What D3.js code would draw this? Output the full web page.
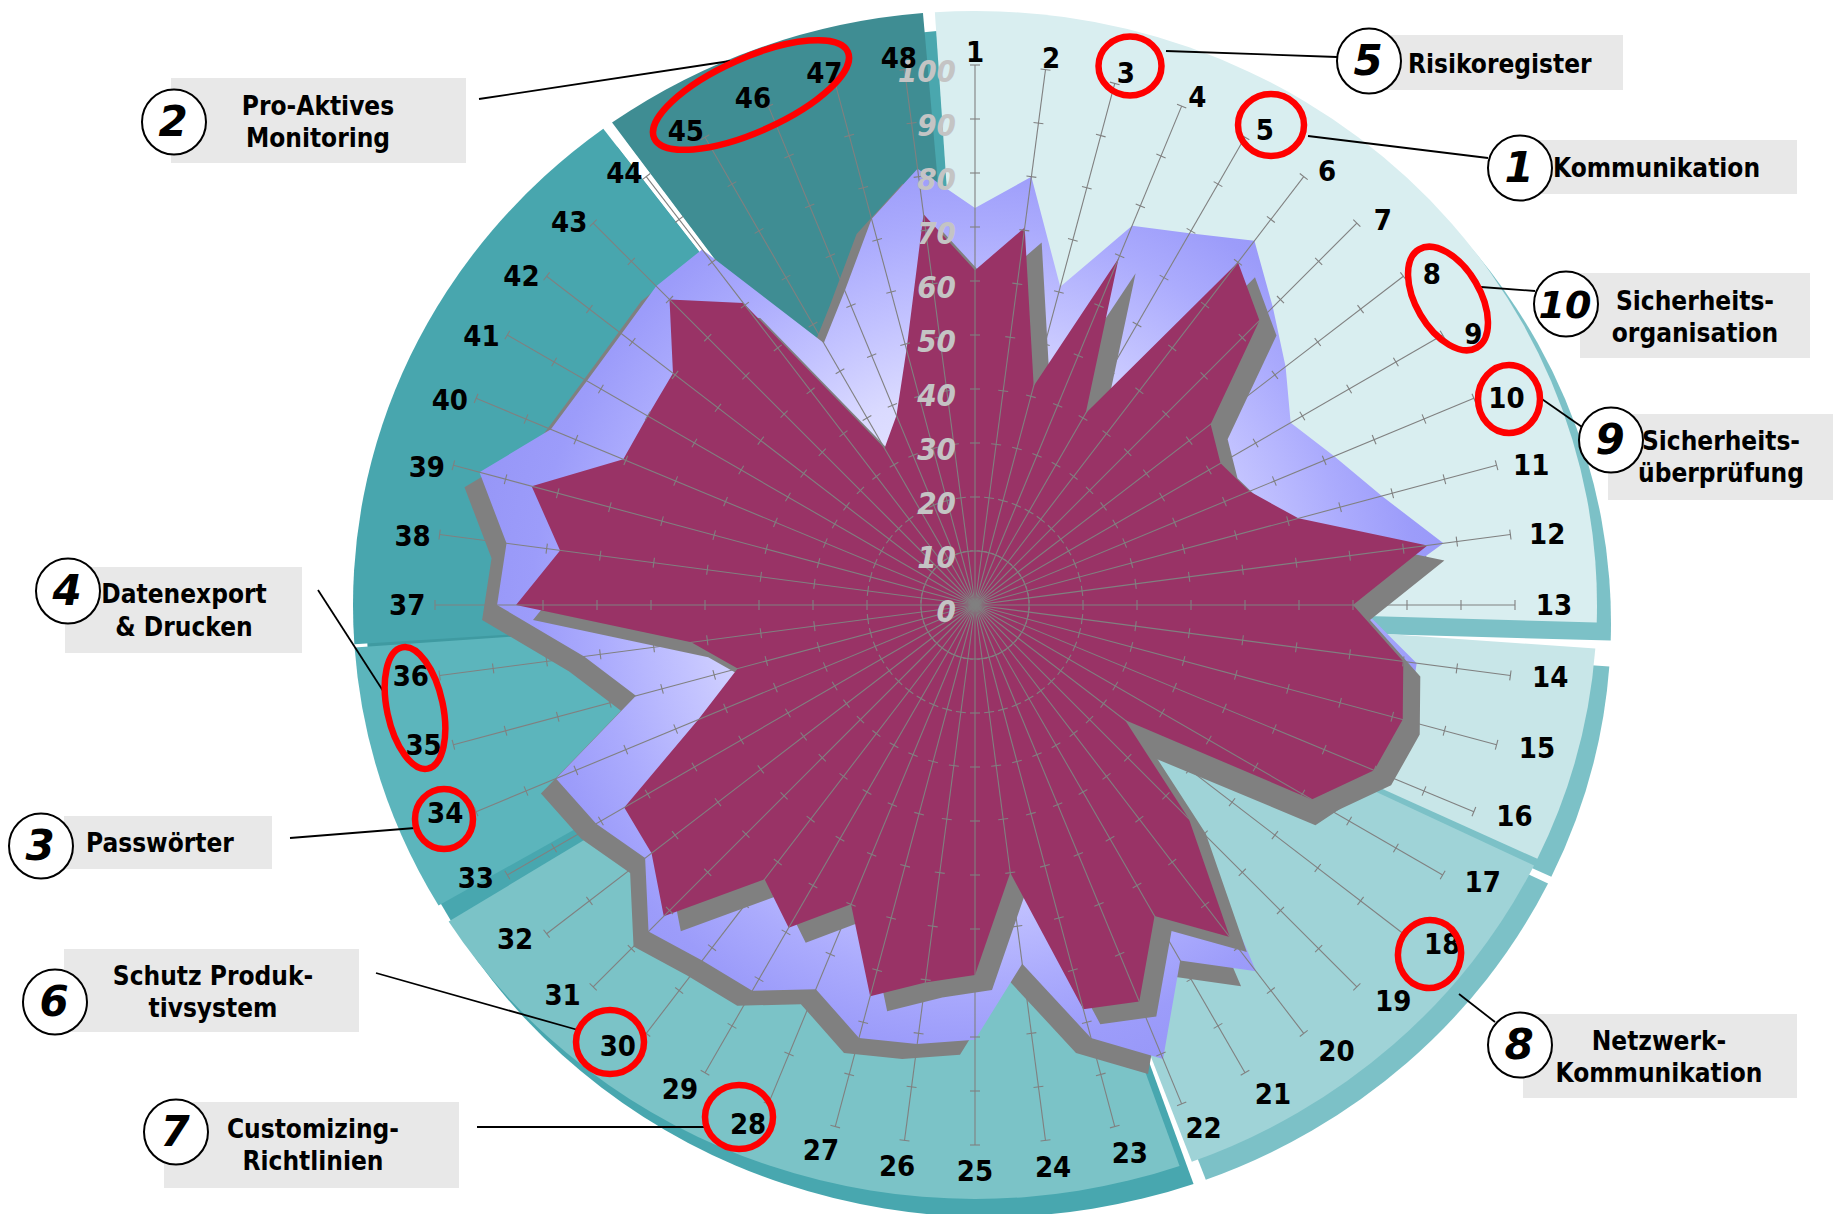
<!DOCTYPE html>
<html><head><meta charset="utf-8">
<script src="https://cdn.jsdelivr.net/npm/d3@7"></script>
<style>body{margin:0;background:#fff;} svg{display:block;}</style>
</head><body>
<svg id="chart" width="1833" height="1214"></svg>
<script>
// ---------------- DATA ----------------
const axisLabels = d3.range(1, 49).map(String);
// light lavender series (target)
const targetValues = [73.5,80,61,76,79.5,85,78,72.5,67.5,72,78,87.5,71,82.5,83,82,76,38,57,85.5,76,91,83,67,
  80.5,82,83,77,82.5,83,85.5,77,81,84,65,73,88.5,87.5,95,85,83,82.5,83.5,83,56,63,74,81.5];
// plum series (actual)
const actualValues = [62,70.5,42,69.5,41,80,74.5,55,52.5,55,62,84.5,70,80,82,80,72,35,56,77.5,66.5,79.5,77.5,50,
  68.5,70.5,75,60,69,64,81.5,75.5,75,55.5,45.5,53,85,77.5,85,70.5,70,70.5,80,70.5,33.5,38,49,73];
const tickValues = [0,10,20,30,40,50,60,70,80,90,100];
const calloutNumbers = ["5","1","10","9","8","2","4","3","6","7"];
const calloutTexts = [["Risikoregister"],["Kommunikation"],["Sicherheits-","organisation"],["Sicherheits-","überprüfung"],
  ["Netzwerk-","Kommunikation"],["Pro-Aktives","Monitoring"],["Datenexport","& Drucken"],["Passwörter"],
  ["Schutz Produk-","tivsystem"],["Customizing-","Richtlinien"]];

// ---------------- LAYOUT / STYLE ----------------
const cx = 975, cy = 605, R100 = 540;
const bgSlices = [ // degrees, fills
  {s:-3.7, e:91.7, fill:"#d9eef0", rim:"#7cc1c7"},
  {s:94.2, e:115.3, fill:"#c8e6e8", rim:"#7cc1c7"},
  {s:116.0, e:159.6, fill:"#9fd3d7", rim:"#7cc1c7"},
  {s:160.8, e:237.8, fill:"#7bc3c7", rim:"#48a7af"},
  {s:239.6, e:265.9, fill:"#5cb5bc", rim:"#48a7af"},
  {s:266.2, e:323.3, fill:"#48a6ae", rim:"#3f9aa1"},
  {s:324.3, e:355.2, fill:"#3f8d93", rim:"#4aa7ae"}
];
const bgR = 594, bgSx = 622/594, rimDx = 14, rimDy = 18;
const calloutLayout = [
  {box:[1380,35,1623,90], circle:[1369,61], tx:1408, anchor:"start", base:[73], leader:[[1166,51],[1337,57]]},
  {box:[1539,140,1797,194], circle:[1520,168], tx:1553, anchor:"start", base:[177], leader:[[1308,136],[1488,158]]},
  {box:[1580,273,1810,358], circle:[1566,304], tx:1695, anchor:"middle", base:[310,342], leader:[[1481,287],[1535,291]]},
  {box:[1608,414,1833,500], circle:[1611,440], tx:1721, anchor:"middle", base:[450,482], leader:[[1539,397],[1582,427]]},
  {box:[1523,1014,1797,1098], circle:[1520,1045], tx:1659, anchor:"middle", base:[1050,1082], leader:[[1459,994],[1495,1022]]},
  {box:[171,78,466,163], circle:[174,122], tx:318, anchor:"middle", base:[115,147], leader:[[479,99],[730,61]]},
  {box:[65,567,302,653], circle:[68,591], tx:184, anchor:"middle", base:[603,636], leader:[[318,590],[387,697]]},
  {box:[64,816,272,869], circle:[41,846], tx:86, anchor:"start", base:[852], leader:[[290,838],[415,828]]},
  {box:[64,949,359,1032], circle:[55,1002], tx:213, anchor:"middle", base:[985,1017], leader:[[376,973],[578,1030]]},
  {box:[164,1102,459,1188], circle:[176,1132], tx:313, anchor:"middle", base:[1138,1170], leader:[[477,1127],[706,1127]]}
];
const redMarks = [
  {c:[1130,66], rx:31.5, ry:29.5, rot:0},
  {c:[1271,125], rx:33, ry:31, rot:0},
  {c:[1448,298.5], rx:57, ry:32, rot:59.5},
  {c:[1509,399], rx:31, ry:34, rot:0},
  {c:[1429.5,954], rx:31.5, ry:34, rot:10},
  {c:[610,1042], rx:34, ry:32, rot:0},
  {c:[739,1117], rx:34, ry:32, rot:0},
  {c:[444,819], rx:29, ry:30, rot:0},
  {c:[415,708], rx:28, ry:62, rot:-12},
  {c:[751,95], rx:106, ry:37, rot:-24}
];
const FONT = "'DejaVu Sans Condensed','DejaVu Sans',sans-serif";

// ---------------- DRAW ----------------
const svg = d3.select("#chart");
const defs = svg.append("defs");
const grad = defs.append("radialGradient").attr("id","lav").attr("gradientUnits","userSpaceOnUse")
  .attr("cx",0).attr("cy",0).attr("r",R100);
[[0,"#f4f4ff"],[0.4,"#dadaff"],[0.55,"#c2c2ff"],[0.7,"#ababfd"],[0.82,"#9c9cfa"],[1,"#9494f6"]]
  .forEach(([o,c]) => grad.append("stop").attr("offset",o).attr("stop-color",c));

const rad = d => d*Math.PI/180;
const bgArc = d3.arc().innerRadius(0).outerRadius(bgR);
const bg = svg.append("g");
bg.selectAll("path.rim").data(bgSlices).join("path").attr("class","rim")
  .attr("d", d => bgArc({startAngle:rad(d.s), endAngle:rad(d.e)}))
  .attr("transform", `translate(${cx+rimDx},${cy+rimDy}) scale(${bgSx},1)`)
  .attr("fill", d => d.rim);
bg.selectAll("path.sl").data(bgSlices).join("path").attr("class","sl")
  .attr("d", d => bgArc({startAngle:rad(d.s), endAngle:rad(d.e)}))
  .attr("transform", `translate(${cx},${cy}) scale(${bgSx},1)`)
  .attr("fill", d => d.fill);

const n = axisLabels.length;
const ang = i => i*2*Math.PI/n;
const r = d3.scaleLinear().domain([0,100]).range([0,R100]);
const radar = d3.lineRadial().angle((d,i)=>ang(i)).radius(d=>r(d)).curve(d3.curveLinearClosed);

const g = svg.append("g").attr("transform",`translate(${cx},${cy})`);
g.append("path").attr("d", radar(targetValues)).attr("fill","#808080").attr("transform","translate(-15,15)");
g.append("path").attr("d", radar(targetValues)).attr("fill","url(#lav)");
g.append("path").attr("d", radar(actualValues)).attr("fill","#808080").attr("transform","translate(17,15)");
g.append("path").attr("d", radar(actualValues)).attr("fill","#993366");

// spokes and ticks
const grid = g.append("g").attr("stroke","#808080").attr("stroke-width",1.1);
axisLabels.forEach((lab,i) => {
  const a = ang(i), sx = Math.sin(a), sy = -Math.cos(a);
  grid.append("line").attr("x1",0).attr("y1",0).attr("x2",r(100)*sx).attr("y2",r(100)*sy);
  tickValues.slice(1).forEach(v => {
    const px = r(v)*sx, py = r(v)*sy, qx = Math.cos(a)*5, qy = Math.sin(a)*5;
    grid.append("line").attr("x1",px-qx).attr("y1",py-qy).attr("x2",px+qx).attr("y2",py+qy);
  });
});

// scale labels
g.selectAll("text.tick").data(tickValues).join("text").attr("class","tick")
  .attr("x",-19).attr("y", d => -r(d)+17).attr("text-anchor","end")
  .attr("font-family",FONT).attr("font-weight","bold").attr("font-style","italic")
  .attr("font-size",31).attr("fill","#c4c4c4").text(d=>d);

// axis labels
g.selectAll("text.ax").data(axisLabels).join("text").attr("class","ax")
  .each(function(d,i){
    const a0 = ang(i);
    const a = a0 + rad(1.6)*Math.sin(2*a0);
    const s = Math.sin(a0), c = Math.cos(a0);
    let rr = 565 + 5.6*s - 6.5*c - 5.5*Math.cos(2*a0) + 2.9*Math.abs(s);
    if (a0 > 0 && a0 < Math.PI/2) rr -= 5*Math.sin(2*a0);
    d3.select(this).attr("x", rr*Math.sin(a)).attr("y", -rr*Math.cos(a)).attr("dy","0.36em");
  })
  .attr("text-anchor","middle").attr("font-family",FONT).attr("font-weight","bold")
  .attr("font-size",29).attr("fill","#000").text(d=>d);

// callouts
const co = svg.append("g");
calloutLayout.forEach((L,k) => {
  const [x0,y0,x1,y1] = L.box;
  co.append("rect").attr("x",x0).attr("y",y0).attr("width",x1-x0).attr("height",y1-y0).attr("fill","#e8e8e8");
  co.append("line").attr("x1",L.leader[0][0]).attr("y1",L.leader[0][1]).attr("x2",L.leader[1][0]).attr("y2",L.leader[1][1])
    .attr("stroke","#000").attr("stroke-width",1.8);
  calloutTexts[k].forEach((t,j) => {
    co.append("text").attr("x",L.tx).attr("y",L.base[j]).attr("text-anchor",L.anchor)
      .attr("font-family",FONT).attr("font-weight","bold").attr("font-size",26).attr("fill","#000").text(t);
  });
  co.append("ellipse").attr("cx",L.circle[0]).attr("cy",L.circle[1]).attr("rx",32).attr("ry",32.5)
    .attr("fill","#fff").attr("stroke","#000").attr("stroke-width",2);
  co.append("text").attr("x",L.circle[0]-1).attr("y",L.circle[1]+14).attr("text-anchor","middle")
    .attr("font-family","'DejaVu Sans',sans-serif").attr("font-weight","bold").attr("font-style","italic")
    .attr("font-size", calloutNumbers[k].length>1 ? 38 : 42).attr("fill","#000").text(calloutNumbers[k]);
});

// red highlight ellipses
svg.append("g").selectAll("ellipse").data(redMarks).join("ellipse")
  .attr("cx",0).attr("cy",0).attr("rx",d=>d.rx).attr("ry",d=>d.ry)
  .attr("transform",d=>`translate(${d.c[0]},${d.c[1]}) rotate(${d.rot})`)
  .attr("fill","none").attr("stroke","#ff0000").attr("stroke-width",6.5);
</script>
</body></html>
